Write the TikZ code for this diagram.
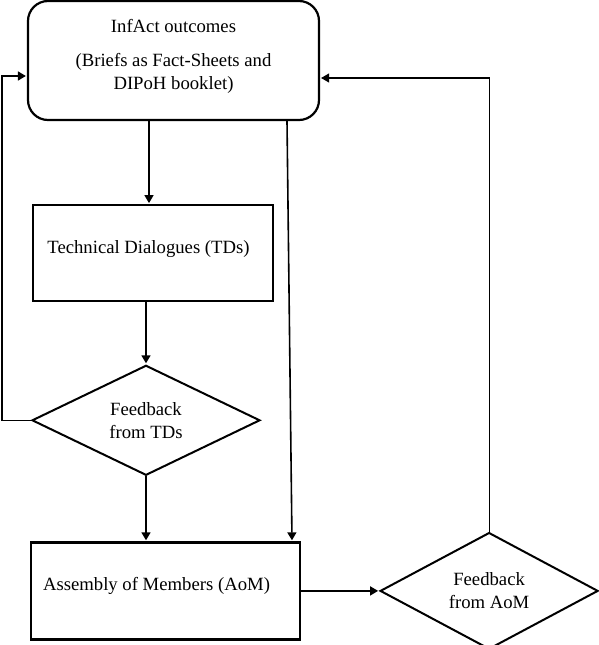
\documentclass[tikz,border=0pt]{standalone}
\usepackage{fontspec}
\setmainfont{Liberation Serif}
\usetikzlibrary{positioning,shapes.geometric,arrows.meta}

\begin{document}
\begin{tikzpicture}[x=1pt,y=-1pt,shorten >=1pt,>={Triangle[length=8pt,width=9pt]},
	every node/.style={font=\fontsize{18.7}{23}\selectfont},
	round node/.style={draw,line width=2.2pt,rounded corners=20pt,minimum width=291pt,minimum height=119pt,align=center},
	box node/.style={draw,line width=2.2pt,minimum height=96pt,align=center},
	choice node/.style={draw,diamond,line width=2pt,inner sep=0pt,align=center},
	link/.style={line width=1.6pt}]
	\useasboundingbox (0,0) rectangle (598,645);
	\node[round node] (out) at (173.5,60.5) {InfAct outcomes\\[11pt](Briefs as Fact-Sheets and\\DIPoH booklet)\rule[-12pt]{0pt}{1pt}};
	\node[box node,minimum width=240pt] (td) [below=83pt of out,xshift=-20.5pt] {Technical Dialogues (TDs)\kern9pt\rule[-13pt]{0pt}{1pt}};
	\node[choice node,minimum width=228pt,minimum height=110pt] (fbtd) [below=62pt of td,xshift=-7pt] {Feedback\\from TDs};
	\node[box node,minimum width=269pt,minimum height=97pt] (aom) [below=65pt of fbtd,xshift=19.5pt] {Assembly of Members (AoM)\kern18pt\rule[-13pt]{0pt}{1pt}};
	\node[choice node,minimum width=218pt,minimum height=108pt] (fbaom) [right=78pt of aom] {Feedback\\from AoM};
	% main flow
	\draw[link,->] ([xshift=-4pt]td.north |- out.south) -- ([xshift=-4pt]td.north);
	\draw[link,->] (td.south -| fbtd.north) -- (fbtd.north);
	\draw[link,->] (fbtd.south) -- (fbtd.south |- aom.north);
	\draw[link,->] ([xshift=113.5pt]out.south) -- ([xshift=126.5pt]aom.north);
	\draw[link,->] (aom.east) -- (fbaom.west);
	% feedback loops
	\draw[link,->] (fbtd.west) -- ++(-29,0) |- ([yshift=-15.5pt]out.west);
	\draw[line width=1.1pt,->] (fbaom.north) |- ([yshift=-17.5pt]out.east);
\end{tikzpicture}
\end{document}
